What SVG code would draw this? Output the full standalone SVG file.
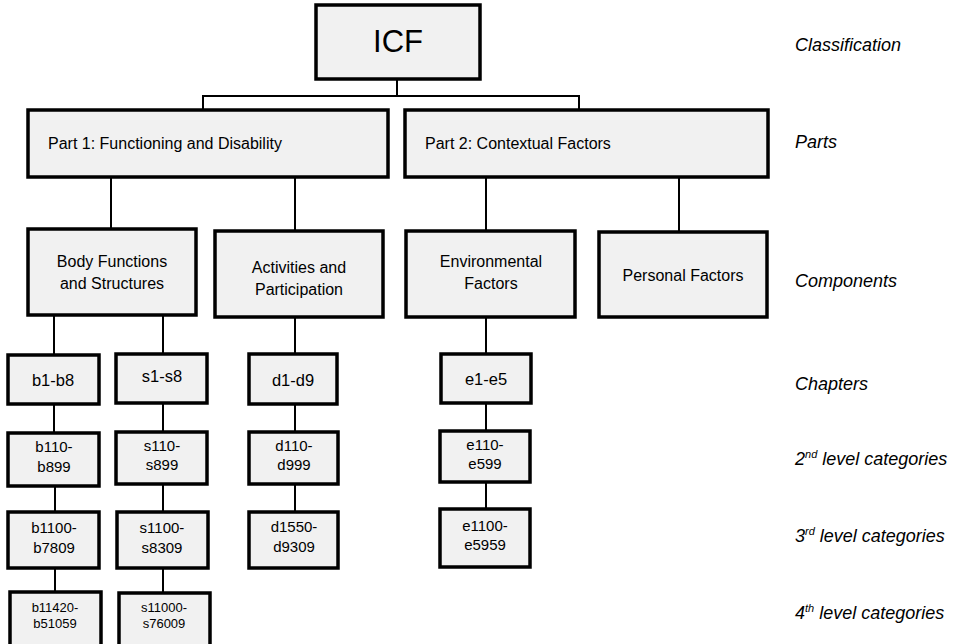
<svg xmlns="http://www.w3.org/2000/svg" width="959" height="644" viewBox="0 0 959 644">
<style>
.box{fill:#f1f1f1;stroke:#000;stroke-width:3.5}
.t{font-family:"Liberation Sans",Arial,sans-serif;fill:#000;text-anchor:middle}
.lbl{font-family:"Liberation Sans",Arial,sans-serif;font-style:italic;font-size:18px;fill:#000}
.sup{font-size:11px}
.conn line,.conn polyline{stroke:#000;stroke-width:2;fill:none}
</style>
<rect width="959" height="644" fill="#fff"/>
<g class="conn">
<line x1="397" y1="79" x2="397" y2="96"/>
<polyline points="203,110 203,96 579,96 579,110"/>
<line x1="111" y1="177" x2="111" y2="229"/>
<line x1="295" y1="177" x2="295" y2="231"/>
<line x1="486" y1="177" x2="486" y2="231"/>
<line x1="679" y1="177" x2="679" y2="232"/>
<line x1="54" y1="315" x2="54" y2="355"/>
<line x1="163" y1="315" x2="163" y2="354"/>
<line x1="295" y1="317" x2="295" y2="354"/>
<line x1="486" y1="317" x2="486" y2="354"/>
<line x1="54" y1="404" x2="54" y2="433"/>
<line x1="163" y1="403" x2="163" y2="432"/>
<line x1="295" y1="404" x2="295" y2="432"/>
<line x1="486" y1="403" x2="486" y2="431"/>
<line x1="55" y1="486" x2="55" y2="512"/>
<line x1="163" y1="484" x2="163" y2="512"/>
<line x1="295" y1="484" x2="295" y2="512"/>
<line x1="486" y1="482" x2="486" y2="509"/>
<line x1="55" y1="568" x2="55" y2="592"/>
<line x1="163" y1="568" x2="163" y2="593"/>
</g>
<g id="icf"><rect class="box" x="316" y="5" width="164" height="74"/><text class="t" x="398" y="52" font-size="31">ICF</text></g>
<g id="part1"><rect class="box" x="28" y="110" width="360" height="67"/><text class="t" x="48" y="149" font-size="16" style="text-anchor:start">Part 1: Functioning and Disability</text></g>
<g id="part2"><rect class="box" x="405" y="110" width="363" height="67"/><text class="t" x="425" y="149" font-size="16" style="text-anchor:start">Part 2: Contextual Factors</text></g>
<g id="body"><rect class="box" x="28" y="229" width="168" height="86"/><text class="t" x="112" y="267" font-size="16">Body Functions</text><text class="t" x="112" y="289" font-size="16">and Structures</text></g>
<g id="activities"><rect class="box" x="215" y="231" width="168" height="86"/><text class="t" x="299" y="273" font-size="16">Activities and</text><text class="t" x="299" y="295" font-size="16">Participation</text></g>
<g id="environmental"><rect class="box" x="406" y="231" width="169" height="86"/><text class="t" x="491" y="267" font-size="16">Environmental</text><text class="t" x="491" y="289" font-size="16">Factors</text></g>
<g id="personal"><rect class="box" x="599" y="232" width="168" height="85"/><text class="t" x="683" y="281" font-size="16">Personal Factors</text></g>
<g id="b1b8"><rect class="box" x="8" y="355" width="91" height="49"/><text class="t" x="53" y="386" font-size="16.5">b1-b8</text></g>
<g id="s1s8"><rect class="box" x="116" y="354" width="91" height="49"/><text class="t" x="162" y="382" font-size="16.5">s1-s8</text></g>
<g id="d1d9"><rect class="box" x="249" y="354" width="88" height="50"/><text class="t" x="293" y="386" font-size="16.5">d1-d9</text></g>
<g id="e1e5"><rect class="box" x="441" y="354" width="90" height="49"/><text class="t" x="486" y="385" font-size="16.5">e1-e5</text></g>
<g id="b110"><rect class="box" x="8" y="433" width="91" height="53"/><text class="t" x="54" y="452" font-size="15">b110-</text><text class="t" x="54" y="472" font-size="15">b899</text></g>
<g id="s110"><rect class="box" x="116" y="432" width="91" height="52"/><text class="t" x="162" y="451" font-size="15">s110-</text><text class="t" x="162" y="470" font-size="15">s899</text></g>
<g id="d110"><rect class="box" x="249" y="432" width="89" height="52"/><text class="t" x="294" y="451" font-size="15">d110-</text><text class="t" x="294" y="470" font-size="15">d999</text></g>
<g id="e110"><rect class="box" x="440" y="431" width="90" height="51"/><text class="t" x="485" y="450" font-size="15">e110-</text><text class="t" x="485" y="469" font-size="15">e599</text></g>
<g id="b1100"><rect class="box" x="8" y="512" width="91" height="56"/><text class="t" x="54" y="533" font-size="15">b1100-</text><text class="t" x="54" y="553" font-size="15">b7809</text></g>
<g id="s1100"><rect class="box" x="117" y="512" width="91" height="56"/><text class="t" x="162" y="533" font-size="15">s1100-</text><text class="t" x="162" y="553" font-size="15">s8309</text></g>
<g id="d1550"><rect class="box" x="249" y="512" width="89" height="56"/><text class="t" x="294" y="532" font-size="15">d1550-</text><text class="t" x="294" y="552" font-size="15">d9309</text></g>
<g id="e1100"><rect class="box" x="440" y="509" width="90" height="58"/><text class="t" x="485" y="531" font-size="15">e1100-</text><text class="t" x="485" y="550" font-size="15">e5959</text></g>
<g id="b11420"><rect class="box" x="10" y="592" width="91" height="60"/><text class="t" x="55" y="612" font-size="13">b11420-</text><text class="t" x="55" y="628" font-size="13">b51059</text></g>
<g id="s11000"><rect class="box" x="119" y="593" width="91" height="60"/><text class="t" x="164" y="612" font-size="13">s11000-</text><text class="t" x="164" y="628" font-size="13">s76009</text></g>
<g id="labels">
<text class="lbl" x="795" y="51">Classification</text>
<text class="lbl" x="795" y="148">Parts</text>
<text class="lbl" x="795" y="287">Components</text>
<text class="lbl" x="795" y="390">Chapters</text>
<text class="lbl" x="795" y="465">2<tspan class="sup" dy="-7">nd</tspan><tspan dy="7"> level categories</tspan></text>
<text class="lbl" x="795" y="542">3<tspan class="sup" dy="-7">rd</tspan><tspan dy="7"> level categories</tspan></text>
<text class="lbl" x="795" y="619">4<tspan class="sup" dy="-7">th</tspan><tspan dy="7"> level categories</tspan></text>
</g>
</svg>
